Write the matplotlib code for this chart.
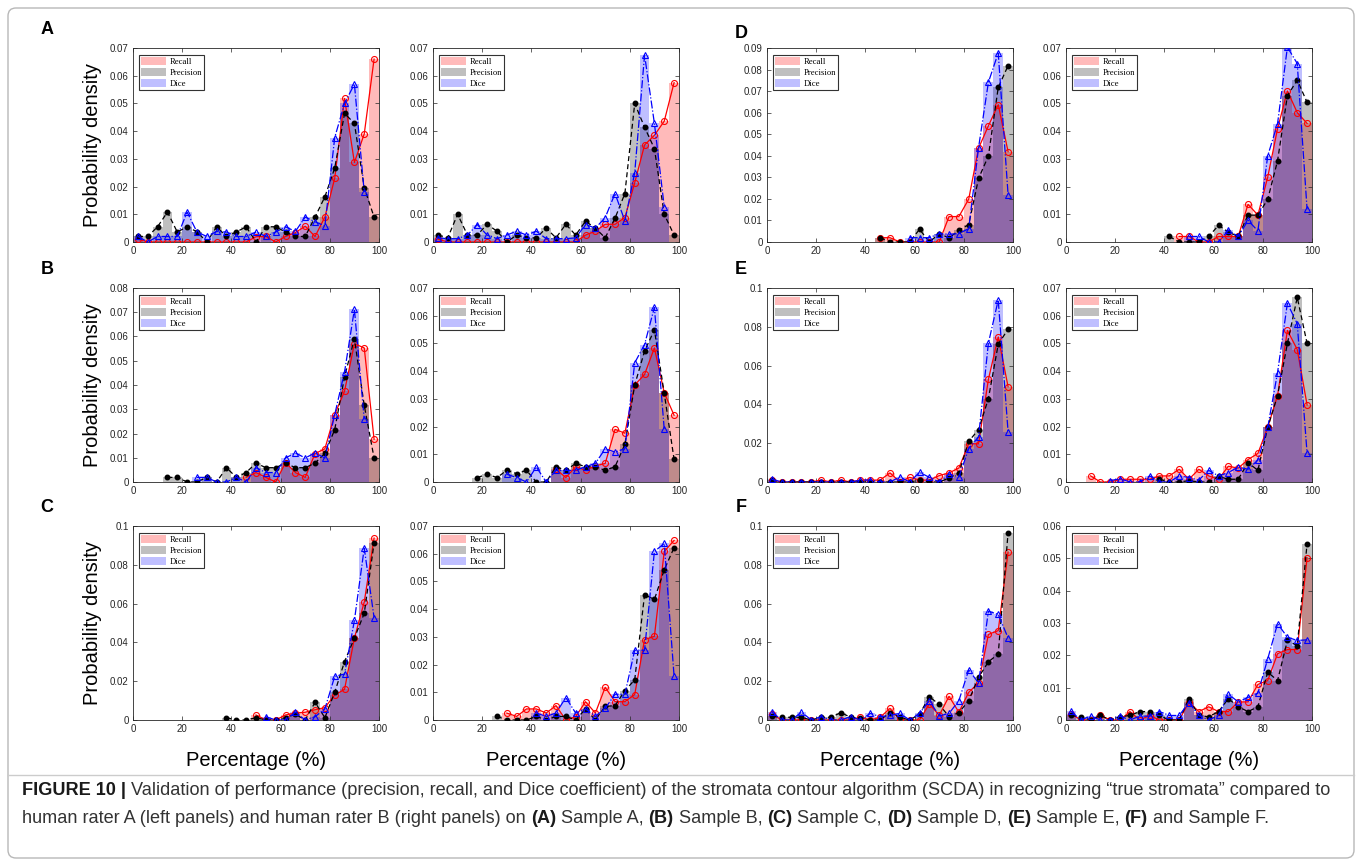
import numpy as np
import matplotlib
matplotlib.use("Agg")
import matplotlib.pyplot as plt
from matplotlib.patches import Patch, FancyBboxPatch
from matplotlib.lines import Line2D
from matplotlib.transforms import IdentityTransform

_ = np.nan

# ---------------- data ----------------
bin_centers = np.arange(2, 100, 4)          # 25 bins of width 4 (0..100)
bin_width = 4
x_ticks = [0, 20, 40, 60, 80, 100]
series_names = ["Recall", "Precision", "Dice"]

# Sample A
A1_recall = [0.001, 0, 0, 0, 0, 0, 0, 0, 0, 0, 0, 0, 0.0019, 0.002, 0, 0.002, 0.0034, 0.0057, 0.002, 0.009, 0.023, 0.0518, 0.0287, 0.039, 0.066]
A1_prec = [0.002, 0.002, 0.0055, 0.0108, 0.0036, 0.0055, 0.0037, 0, 0.0055, 0.002, 0.0036, 0.0055, 0, 0.0055, 0.0055, 0.0036, 0.002, 0.002, 0.009, 0.0163, 0.0267, 0.0464, 0.0428, 0.0196, 0.009]
A1_dice = [0.002, 0, 0.002, 0.002, 0.002, 0.0108, 0.0036, 0.002, 0.0038, 0.0036, 0.002, 0.002, 0.0036, 0.002, 0.0036, 0.0055, 0.0038, 0.009, 0.0073, 0.0058, 0.0377, 0.050, 0.057, 0.018, _]
A1_ymax = 0.07
A2_recall = [0.001] + [0] * 14 + [0.0025, 0.0039, 0.0064, 0.0064, 0.0088, 0.0214, 0.035, 0.0385, 0.0436, 0.0575]
A2_prec = [0.0025, 0.0015, 0.010, 0.0025, 0.0025, 0.0064, 0.0039, 0, 0.0025, 0.0015, 0.0015, 0.005, 0.0015, 0.0064, 0.0025, 0.0075, 0.005, 0.0015, 0.0086, 0.0175, 0.050, 0.0414, 0.0337, 0.010, 0.0025]
A2_dice = [0.0015, 0.0012, 0.0012, 0.0025, 0.0063, 0.0025, 0.0012, 0.0025, 0.0039, 0.0025, 0.0039, 0.0012, 0.0012, 0.0012, 0.0015, 0.0063, 0.005, 0.0088, 0.0175, 0.0076, 0.025, 0.0675, 0.0428, 0.0127, _]
A2_ymax = 0.07

# Sample B
B1_recall = [_] * 11 + [0.0019, 0.0039, 0.0019, 0, 0.008, 0.0039, 0.0019, 0.0117, 0.0137, 0.0278, 0.0375, 0.057, 0.0553, 0.0176]
B1_prec = [_] * 3 + [0.0019, 0.0019, 0, 0, 0.0019, 0, 0.0059, 0.0019, 0.0039, 0.0078, 0.0059, 0.0059, 0.0078, 0.0059, 0.0059, 0.0078, 0.0118, 0.0216, 0.0434, 0.0591, 0.0316, 0.0099]
B1_dice = [_] * 6 + [0.0019, 0.0019, 0, 0, 0.0019, 0, 0.0059, 0.0039, 0.0039, 0.0099, 0.012, 0.0099, 0.012, 0.0099, 0.0278, 0.0454, 0.0712, 0.0258] + [_]
B1_ymax = 0.08
B2_recall = [_] * 12 + [0.0046, 0.0016, 0.0055, 0.0042, 0.0058, 0.0067, 0.019, 0.0176, 0.035, 0.0388, 0.0484, 0.0322, 0.0241]
B2_prec = [_] * 4 + [0.0016, 0.0028, 0.0016, 0.0042, 0.003, 0.0042, 0, 0, 0.0055, 0.0042, 0.0067, 0.0055, 0.0055, 0.0042, 0.0055, 0.0136, 0.035, 0.0472, 0.0549, 0.032, 0.0082]
B2_dice = [_] * 7 + [0.0028, 0.0016, 0, 0.0054, 0, 0.0042, 0.0042, 0.0042, 0.0055, 0.0067, 0.012, 0.0108, 0.012, 0.043, 0.0496, 0.063, 0.019] + [_]
B2_ymax = 0.07

# Sample C
C1_recall = [_] * 12 + [0.0026, 0, 0, 0.0026, 0.0036, 0.004, 0.0053, 0.0064, 0.0129, 0.0158, 0.0422, 0.0608, 0.0938]
C1_prec = [_] * 9 + [0.0012, 0, 0, 0.0012, 0, 0, 0.0012, 0.003, 0, 0.0091, 0.0012, 0.0143, 0.0301, 0.0422, 0.055, 0.0912]
C1_dice = [_] * 13 + [0.0017, 0, 0, 0.004, 0, 0.0017, 0.0057, 0.0225, 0.0237, 0.0513, 0.0886, 0.0528]
C1_ymax = 0.1
C2_recall = [_] * 7 + [0.0025, 0.0013, 0.004, 0.004, 0.0025, 0.0052, 0, 0.0012, 0.0066, 0.0025, 0.0118, 0.0066, 0.0066, 0.0092, 0.029, 0.0302, 0.0608, 0.0648]
C2_prec = [_] * 6 + [0.0013, 0, 0, 0, 0.0013, 0, 0.0013, 0.0013, 0, 0.004, 0, 0.0049, 0.0052, 0.0106, 0.0145, 0.0452, 0.0435, 0.0542, 0.0622]
C2_dice = [_] * 10 + [0.0025, 0.0013, 0.0025, 0.0081, 0.0025, 0.004, 0.0013, 0.0042, 0.0093, 0.0093, 0.0252, 0.0252, 0.0608, 0.0637, 0.0158]
C2_ymax = 0.07

# Sample D
D1_recall = [_] * 11 + [0.002, 0.002, 0, 0, 0, 0, 0, 0.0118, 0.0118, 0.0199, 0.0435, 0.0539, 0.0637, 0.0419]
D1_prec = [_] * 11 + [0.002, 0, 0, 0, 0.0059, 0, 0.0039, 0.0019, 0.0054, 0.0081, 0.0295, 0.0399, 0.0717, 0.0818]
D1_dice = [_] * 14 + [0.002, 0.002, 0.002, 0.0039, 0.0036, 0.0039, 0.0062, 0.0438, 0.0741, 0.0877, 0.022]
D1_ymax = 0.09
D2_recall = [_] * 11 + [0.002, 0.002, 0, 0, 0.002, 0.002, 0.002, 0.0136, 0.0097, 0.0234, 0.0409, 0.0545, 0.0467, 0.0428]
D2_prec = [_] * 10 + [0.002, 0, 0, 0, 0.002, 0.006, 0.0036, 0.002, 0.0097, 0.0097, 0.0154, 0.0293, 0.0528, 0.0584, 0.0504]
D2_dice = [_] * 12 + [0.002, 0.002, 0, 0, 0.0042, 0.002, 0.0078, 0.004, 0.0311, 0.0427, 0.0703, 0.0644, 0.0118]
D2_ymax = 0.07

# Sample E
E1_recall = [0.001, 0, 0, 0, 0, 0.001, 0, 0.001, 0, 0.001, 0.001, 0.001, 0.0047, 0, 0.0024, 0.001, 0.001, 0.0033, 0.0047, 0.0072, 0.0197, 0.0197, 0.0529, 0.0748, 0.0491]
E1_prec = [0.001] + [0] * 14 + [0.001, 0, 0, 0.002, 0.0047, 0.021, 0.027, 0.043, 0.071, 0.0788]
E1_dice = [0.0014, 0, 0, 0, 0, 0, 0, 0, 0, 0.001, 0.001, 0, 0, 0.0026, 0, 0.005, 0.0024, 0, 0.0041, 0.0026, 0.0172, 0.0233, 0.0716, 0.0938, 0.0259]
E1_ymax = 0.1
E2_recall = [_] * 2 + [0.0022, 0, 0, 0.001, 0.001, 0.001, 0.001, 0.0022, 0.0022, 0.0046, 0.001, 0.0046, 0.0022, 0.001, 0.0057, 0.005, 0.0081, 0.0103, 0.0197, 0.0312, 0.0547, 0.0478, 0.0278]
E2_prec = [_] * 9 + [0.001, 0, 0, 0.0005, 0, 0, 0.002, 0.001, 0.001, 0.007, 0.0042, 0.0197, 0.0312, 0.050, 0.0666, 0.050]
E2_dice = [_] * 4 + [0.0005, 0.0012, 0, 0, 0.0022, 0, 0, 0.0022, 0.0016, 0.0007, 0.0042, 0.0022, 0.0034, 0.0054, 0.0046, 0.0079, 0.0197, 0.0395, 0.0645, 0.0571, 0.0104]
E2_ymax = 0.07

# Sample F
F1_recall = [0.003, 0, 0, 0, 0, 0, 0, 0, 0, 0.0014, 0, 0.0014, 0.006, 0, 0, 0, 0.0083, 0.0024, 0.0122, 0.004, 0.0143, 0.0191, 0.0441, 0.0461, 0.0866]
F1_prec = [0.0019, 0.0014, 0.0014, 0.0014, 0, 0.0014, 0.0014, 0.0038, 0.0014, 0.0009, 0, 0, 0.0038, 0.0014, 0, 0.003, 0.012, 0.008, 0.0017, 0.0038, 0.01, 0.022, 0.03, 0.034, 0.0966]
F1_dice = [0.0041, 0, 0, 0.0041, 0, 0.0017, 0, 0, 0.0017, 0, 0.0034, 0.0017, 0.0024, 0.0034, 0, 0.0034, 0.01, 0.0021, 0.0034, 0.01, 0.0258, 0.0191, 0.0561, 0.0544, 0.0423]
F1_ymax = 0.1
F2_recall = [0.002, 0, 0, 0.0014, 0, 0, 0.0026, 0, 0.0014, 0, 0, 0, 0.0055, 0.0026, 0.0041, 0.0026, 0.0026, 0.0056, 0.0056, 0.011, 0.0122, 0.0205, 0.0218, 0.0218, 0.0502]
F2_prec = [0.0014, 0.001, 0, 0.0014, 0, 0.001, 0.0014, 0.0026, 0.0026, 0.0014, 0, 0, 0.0066, 0.0014, 0.001, 0.0026, 0.0066, 0.0041, 0.0026, 0.0041, 0.0148, 0.0122, 0.0246, 0.023, 0.0545]
F2_dice = [0.0027, 0, 0.0012, 0, 0, 0.0012, 0, 0.0012, 0.0012, 0.0026, 0.0014, 0.0014, 0.0054, 0.0014, 0, 0.0014, 0.008, 0.0056, 0.007, 0.0083, 0.0189, 0.0298, 0.0256, 0.0246, 0.0248]
F2_ymax = 0.06

panel_letters = ["A", "B", "C", "D", "E", "F"]
panels = {
    "A": [(A1_recall, A1_prec, A1_dice, A1_ymax), (A2_recall, A2_prec, A2_dice, A2_ymax)],
    "B": [(B1_recall, B1_prec, B1_dice, B1_ymax), (B2_recall, B2_prec, B2_dice, B2_ymax)],
    "C": [(C1_recall, C1_prec, C1_dice, C1_ymax), (C2_recall, C2_prec, C2_dice, C2_ymax)],
    "D": [(D1_recall, D1_prec, D1_dice, D1_ymax), (D2_recall, D2_prec, D2_dice, D2_ymax)],
    "E": [(E1_recall, E1_prec, E1_dice, E1_ymax), (E2_recall, E2_prec, E2_dice, E2_ymax)],
    "F": [(F1_recall, F1_prec, F1_dice, F1_ymax), (F2_recall, F2_prec, F2_dice, F2_ymax)],
}

ylabel_text = "Probability density"
xlabel_text = "Percentage (%)"
caption_line1 = [("FIGURE 10 |", True),
                 (" Validation of performance (precision, recall, and Dice coefficient) of the stromata contour algorithm (SCDA) in recognizing \u201ctrue stromata\u201d compared to", False)]
caption_line2 = [("human rater A (left panels) and human rater B (right panels) on ", False),
                 ("(A)", True), (" Sample A, ", False), ("(B)", True), (" Sample B, ", False),
                 ("(C)", True), (" Sample C, ", False), ("(D)", True), (" Sample D, ", False),
                 ("(E)", True), (" Sample E, ", False), ("(F)", True), (" and Sample F.", False)]

# ---------------- layout ----------------
W, H = 1362, 864
fig = plt.figure(figsize=(W / 100, H / 100), dpi=100)
fig.patch.set_facecolor("white")
SANS = ["Liberation Sans", "DejaVu Sans"]
SERIF = ["Liberation Serif", "DejaVu Serif"]

col_left = {("L", 0): 133, ("L", 1): 433, ("R", 0): 767, ("R", 1): 1066}
ax_w, ax_h = 246, 194
row_top = [48, 288, 526]
letter_pos = {"A": (47, 30, "L", 0), "B": (47, 270, "L", 1), "C": (47, 507, "L", 2),
              "D": (741, 33, "R", 0), "E": (741, 270, "R", 1), "F": (741, 507, "R", 2)}

bar_styles = [("#ff0000", 0.27), ("#000000", 0.25), ("#0000ff", 0.25)]


def draw_panel(ax, rec, prec, dice, ymax):
    for vals, (c, a) in zip((rec, prec, dice), bar_styles):
        ax.bar(bin_centers, np.nan_to_num(np.asarray(vals, float)), width=bin_width,
               color=c, alpha=a, linewidth=0, zorder=1)
    ax.plot(bin_centers, rec, "-", color="#ff0000", lw=0.9, marker="o", ms=4.3,
            mfc="none", mec="#ff0000", mew=0.8, zorder=3)
    ax.plot(bin_centers, prec, "--", color="black", lw=0.9, marker=".", ms=6.5,
            zorder=3, dashes=(4, 2.5))
    ax.plot(bin_centers, dice, "-.", color="#0000ff", lw=0.9, marker="^", ms=4.3,
            mfc="none", mec="#0000ff", mew=0.8, zorder=3)
    ax.set_xlim(0, 100)
    ax.set_ylim(0, ymax)
    ax.set_xticks(x_ticks)
    step = 0.02 if ymax >= 0.1 else 0.01
    yt = np.round(np.arange(0, ymax + step / 2, step), 3)
    ax.set_yticks(yt)
    ax.set_yticklabels([f"{v:g}" for v in yt])
    ax.set_xticklabels([str(v) for v in x_ticks])
    ax.tick_params(direction="in", length=3, width=0.5, top=True, right=True,
                   labelsize=7, color="0.15", labelcolor="0.15", pad=3)
    for lab in ax.get_xticklabels() + ax.get_yticklabels():
        lab.set_fontfamily(SANS)
    for s in ax.spines.values():
        s.set_color("0.15")
        s.set_linewidth(0.6)
    handles = [Patch(facecolor=c, alpha=a, edgecolor="none") for c, a in bar_styles]
    leg = ax.legend(handles, series_names, loc="upper left",
                    bbox_to_anchor=(6 / ax_w, 1 - 7 / ax_h), borderaxespad=0,
                    prop={"family": SERIF, "size": 6.2}, frameon=True, fancybox=False,
                    edgecolor="0.2", framealpha=1, handlelength=2.9, handleheight=1.05,
                    handletextpad=0.4, labelspacing=0.25, borderpad=0.25)
    leg.get_frame().set_linewidth(0.8)
    leg.set_zorder(5)


for letter in panel_letters:
    lx, ly, side, row = letter_pos[letter]
    for j, (rec, prec, dice, ymax) in enumerate(panels[letter]):
        left = col_left[(side, j)]
        top = row_top[row]
        ax = fig.add_axes([left / W, 1 - (top + ax_h) / H, ax_w / W, ax_h / H])
        draw_panel(ax, rec, prec, dice, ymax)
        if row == 2:
            fig.text((left + ax_w / 2) / W, 1 - 760 / H, xlabel_text, ha="center", va="center",
                     fontsize=14.5, family=SANS, color="black")
    fig.text(lx / W, 1 - ly / H, letter, ha="center", va="center", fontsize=13,
             fontweight="bold", family=SANS, color="black")
    if side == "L":
        fig.text(92 / W, 1 - (row_top[row] + ax_h / 2) / H, ylabel_text, rotation=90,
                 ha="center", va="center", fontsize=14.5, family=SANS, color="black")

# frame and caption
frame = FancyBboxPatch((8, 6), 1346, 850, boxstyle="round,pad=0,rounding_size=8",
                       transform=IdentityTransform(), facecolor="none",
                       edgecolor="0.72", linewidth=1.0)
fig.patches.append(frame)
fig.add_artist(Line2D([8, 1354], [H - 775, H - 775], transform=IdentityTransform(),
                      color="0.8", linewidth=1.0))

renderer = fig.canvas.get_renderer()


def runs_width(runs, size):
    total = 0
    for txt, bold in runs:
        t = fig.text(0, 0, txt, fontsize=size, fontweight="bold" if bold else "normal",
                     family=SANS)
        total += t.get_window_extent(renderer=renderer).width
        t.remove()
    return total


cap_size = 10.0 * (1318 / runs_width(caption_line1, 10.0))


def draw_runs(runs, x_px, y_base_px, size):
    x = x_px
    for txt, bold in runs:
        t = fig.text(x / W, 1 - y_base_px / H, txt, fontsize=size,
                     fontweight="bold" if bold else "normal", family=SANS,
                     color="0.1" if bold else "0.2", ha="left", va="baseline")
        x += t.get_window_extent(renderer=renderer).width


draw_runs(caption_line1, 22, 795, cap_size)
draw_runs(caption_line2, 22, 823, cap_size)

fig.savefig("out.png", dpi=100)
